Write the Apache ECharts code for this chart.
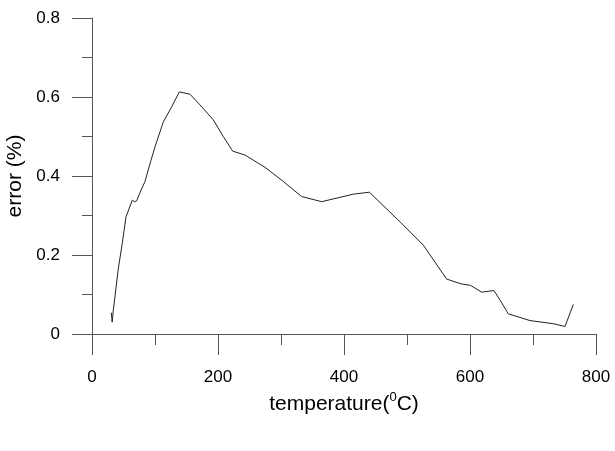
<!DOCTYPE html>
<html lang="en">
<head>
    <meta charset="UTF-8">
    <title>error vs temperature</title>
    <script type="text/javascript" src="https://cdn.jsdelivr.net/npm/echarts@6/dist/echarts.min.js"></script>
    <style>
        html, body { margin: 0; padding: 0; background: #fff; }
        #chart { width: 615px; height: 451px; }
    </style>
</head>
<body>
<div id="chart"></div>
<script type="text/javascript">
    var temperature = [30.7, 32, 33.9, 41.8, 48.1, 54, 64, 67.2, 70.9, 76.2, 84.1, 93.7, 100, 113.2, 126.5, 138.6,
        155.6, 171.4, 192.6, 208.4, 223.3, 242.9, 274.6, 303.7, 332.8, 364.6, 414.8, 440.2, 488.9, 525.9,
        563, 585.7, 601, 618.5, 638, 647.6, 660.8, 695.2, 732.2, 750.8, 764];
    var error = [0.054, 0.030, 0.061, 0.166, 0.23, 0.297, 0.339, 0.335, 0.337, 0.358, 0.386, 0.44, 0.474, 0.537, 0.575, 0.613,
        0.607, 0.58, 0.542, 0.50, 0.463, 0.453, 0.422, 0.386, 0.348, 0.335, 0.354, 0.359, 0.284, 0.225,
        0.139, 0.127, 0.123, 0.106, 0.11, 0.086, 0.051, 0.034, 0.026, 0.019, 0.075];
    var xTicks = [0, 200, 400, 600, 800];
    var yTicks = [0, 0.2, 0.4, 0.6, 0.8];

    var points = [];
    for (var i = 0; i < temperature.length; i++) {
        points.push([temperature[i], error[i]]);
    }

    var axisColor = '#555';
    var fontFamily = 'Liberation Sans, Arial, sans-serif';

    var mychart = echarts.init(document.getElementById('chart'));
    var option = {
        animation: false,
        backgroundColor: '#fff',
        grid: { left: 92, right: 19, top: 18, bottom: 117, containLabel: false, outerBoundsMode: 'none' },
        xAxis: {
            type: 'value',
            min: xTicks[0],
            max: xTicks[xTicks.length - 1],
            interval: 200,
            name: '{a|temperature(}{s|0}{a|C)}',
            nameLocation: 'middle',
            nameGap: 43,
            nameTextStyle: {
                rich: {
                    a: { fontSize: 21, color: '#000', fontFamily: fontFamily, lineHeight: 24, verticalAlign: 'bottom' },
                    s: { fontSize: 13, color: '#000', fontFamily: fontFamily, lineHeight: 24, verticalAlign: 'top', padding: [0, 0, 9, 0] }
                }
            },
            axisLine: { show: true, onZero: false, lineStyle: { color: axisColor, width: 1 } },
            axisTick: { show: true, length: 21, lineStyle: { color: axisColor } },
            minorTick: { show: true, splitNumber: 2, length: 11, lineStyle: { color: axisColor } },
            axisLabel: { margin: 35, fontSize: 17, color: '#000', fontFamily: fontFamily },
            splitLine: { show: false }
        },
        yAxis: {
            type: 'value',
            min: yTicks[0],
            max: yTicks[yTicks.length - 1],
            interval: 0.2,
            name: 'error (%)',
            nameLocation: 'middle',
            nameGap: 59,
            nameTextStyle: { fontSize: 21, color: '#000', fontFamily: fontFamily },
            axisLine: { show: true, onZero: false, lineStyle: { color: axisColor, width: 1 } },
            axisTick: { show: true, length: 20, lineStyle: { color: axisColor } },
            minorTick: { show: true, splitNumber: 2, length: 10, lineStyle: { color: axisColor } },
            axisLabel: { margin: 32, fontSize: 17, color: '#000', fontFamily: fontFamily },
            splitLine: { show: false }
        },
        series: [{
            type: 'line',
            data: points,
            showSymbol: false,
            symbol: 'none',
            lineStyle: { color: '#222', width: 1 }
        }]
    };
    mychart.setOption(option);
</script>
</body>
</html>
